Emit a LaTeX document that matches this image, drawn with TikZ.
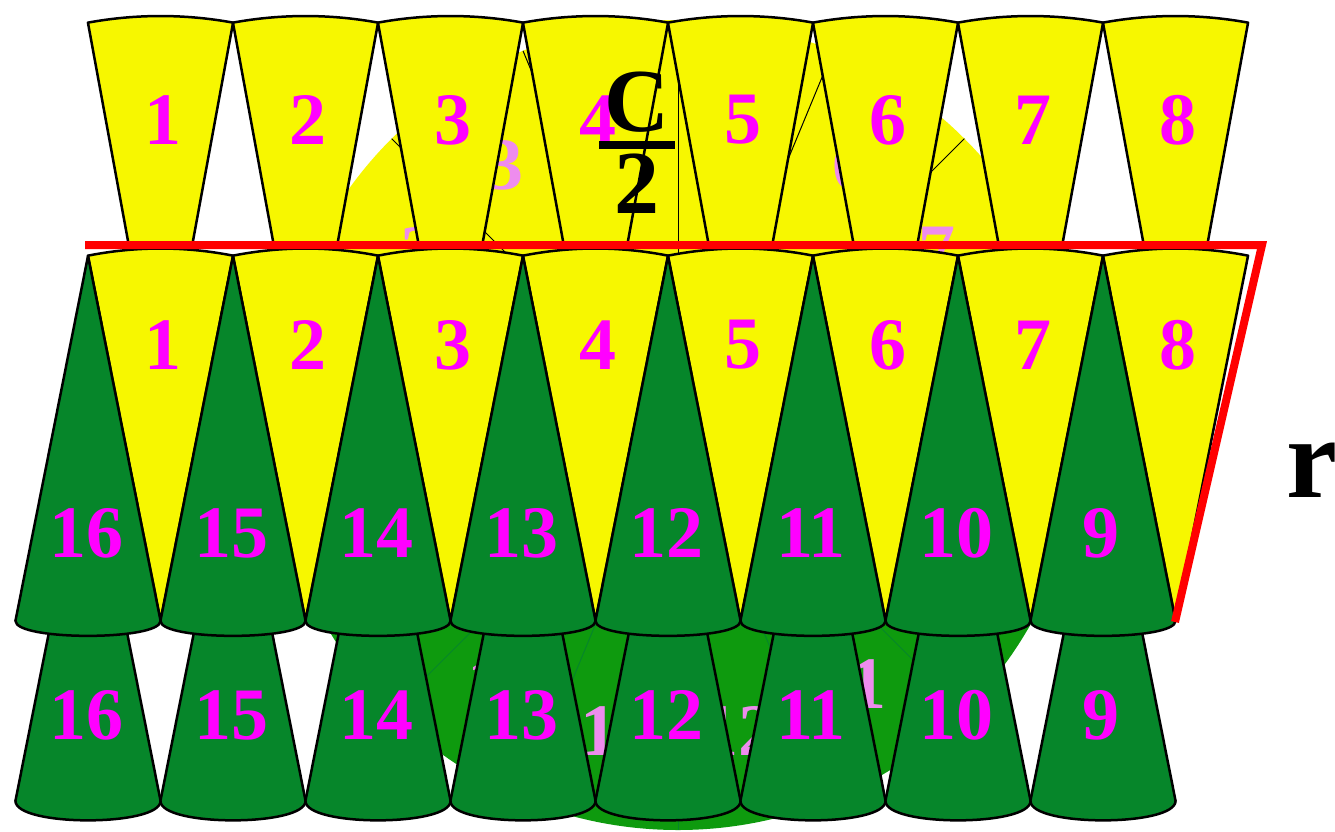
\documentclass[tikz,border=0pt]{standalone}
\usepackage{xcolor}
\usepackage{tikz}
\usetikzlibrary{positioning}
\usepackage{amsmath}
\usepackage{fontspec}
\setmainfont{Liberation Serif}

\definecolor{sunyellow}{RGB}{247,247,0}
\definecolor{leafgreen}{RGB}{6,134,42}
\definecolor{discgreen}{RGB}{14,154,14}
\definecolor{numpink}{RGB}{255,0,255}
\definecolor{ghostpink}{RGB}{238,140,238}
\definecolor{edgered}{RGB}{255,0,0}

\tikzset{
    wedge/.style={draw=black, line width=2.5pt, line join=round},
    sunwedge/.style={wedge, fill=sunyellow},
    leafwedge/.style={wedge, fill=leafgreen},
    numlabel/.style={text=numpink, inner sep=0pt, font=\fontsize{74}{74}\selectfont\bfseries},
    ghostlabel/.style={numlabel, text=ghostpink},
    radial/.style={draw=black, line width=1pt},
    redline/.style={draw=edgered, line width=8pt},
    biglabel/.style={text=black, inner sep=0pt, font=\fontsize{#1}{#1}\selectfont\bfseries}
}

% sector with its tip at (#1,#2), radius #3, half angle #4
\newcommand{\downwedge}[4]{\draw[sunwedge] ({#1},{#2}) -- ++({-90-#4}:#3) arc[start angle={-90-#4}, end angle={-90+#4}, radius=#3] -- cycle;}
% same, pointing up, its rim bulged by #5
\newcommand{\upwedge}[5]{\draw[leafwedge] ({#1},{#2}) -- ++({90-#4}:#3) .. controls +(0,#5) and +(0,#5) .. ++({-2*#3*sin(#4)},0) -- cycle;}

\begin{document}
\begin{tikzpicture}[x=1pt, y=-1pt]
                \useasboundingbox (0,0) rectangle (1335,831);
                \coordinate (hub) at (678,425);
                % what is left of the cut circle
                \fill[sunyellow] (hub) ++(180:405) arc[start angle=180, end angle=360, radius=405] -- cycle;
                \fill[discgreen] (hub) ++(0:405) arc[start angle=0, end angle=180, radius=405] -- cycle;
                \foreach \a in {180,202.5,...,360} {
                    \draw[radial] (hub) -- ++(\a:405);
                }
                \foreach \a in {22.5,45,...,157.5} {
                    \draw[radial, draw=leafgreen] (hub) -- ++(\a:405);
                }
                \foreach \k in {2,3,6,7,11,12,13,14} {
                    \path (hub) ++({22.5*\k+168.75}:312) node[ghostlabel] (disc\k) {\k};
                }
                % upper row, cut at the red line
                \begin{scope}
                    \clip (0,0) rectangle (1335,245);
                    \foreach \i in {1,...,8} {
                        \downwedge{160.5+145*(\i-1)}{418}{402}{10.4}
                    }
                \end{scope}
                % lower row
                \foreach \j in {0,...,7} {
                    \upwedge{88+145*\j}{436}{372}{11.25}{26}
                }
                % middle row
                \foreach \i in {1,...,8} {
                    \downwedge{160.5+145*(\i-1)}{620.5}{372}{11.25}
                }
                \foreach \j in {0,...,7} {
                    \upwedge{88+145*\j}{256}{372}{11.25}{20}
                }
                % numbers
                \foreach \i in {1,...,8} {
                    \node[numlabel] (top\i) at ({163+145*(\i-1)},120) {\i};
                    \node[numlabel] (mid\i) at ({163+145*(\i-1)},345) {\i};
                }
                \foreach \j [evaluate=\j as \n using int(16-\j)] in {0,...,7} {
                    \node[numlabel] (grn\n) at ({86+145*\j},533) {\n};
                    \node[numlabel] (bot\n) at ({86+145*\j},715) {\n};
                }
                % half circumference and radius
                \coordinate (redstart) at (85,245);
                \coordinate (redcorner) at (1262,245);
                \coordinate (redend) at (1175,622);
                \draw[redline] (redstart) -- (redcorner) -- (redend);
                \node[biglabel=90, anchor=north] (halfcirc) at (637,72) {\vbox{\offinterlineskip\hbox to 76pt{\hss C\hss}\kern8pt\hrule height 8pt width 76pt\kern5pt\hbox to 76pt{\hss 2\hss}}};
                \node[biglabel=115] (radius) at (1312,470) {r};
            \end{tikzpicture}
\end{document}
